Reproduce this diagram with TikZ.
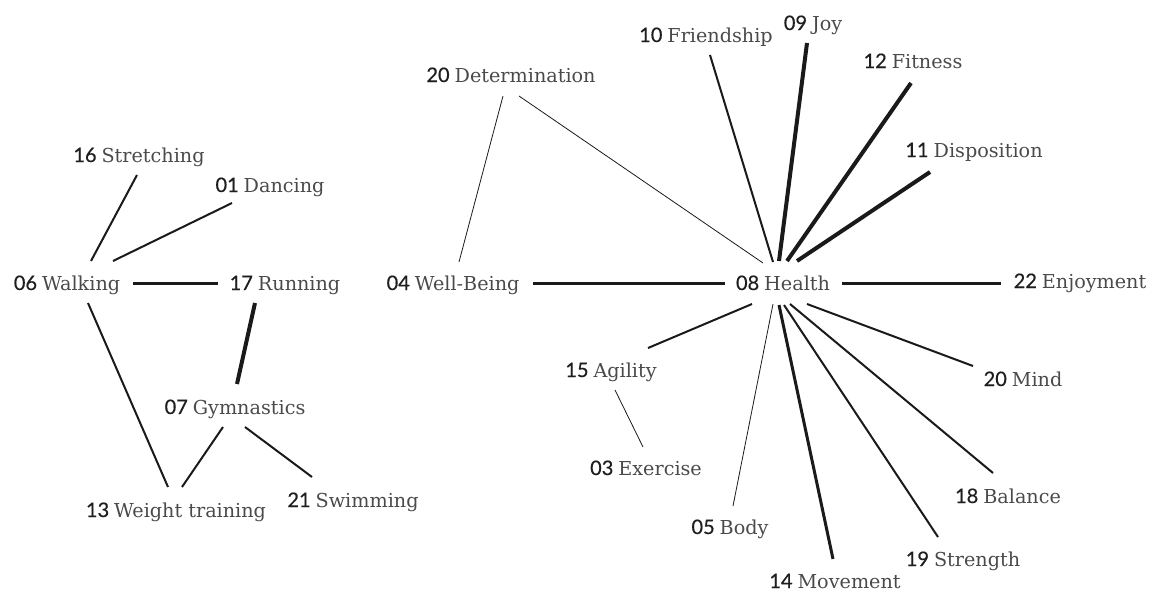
\documentclass[tikz,border=0pt]{standalone}
\usepackage{fontspec}
\setmainfont{DejaVu Serif}
\newfontfamily\numfont{Lato}[FakeBold=0.5]
\definecolor{numc}{HTML}{1E1E1E}
\definecolor{txtc}{HTML}{4A4A4A}
\definecolor{linec}{HTML}{1A1A1A}
\newcommand\lab[2]{{\numfont\fontsize{20}{22}\selectfont\color{numc}#1}\hspace{5pt}#2}
\tikzset{
  lbl/.style={anchor=base, inner sep=0pt, font=\fontsize{19.2}{22}\selectfont, text=txtc},
  thin/.style={draw=linec, line width=0.8pt},
  med/.style={draw=linec, line width=2pt},
  bold/.style={draw=linec, line width=3pt},
  heavy/.style={draw=linec, line width=4pt},
}
\begin{document}
\begin{tikzpicture}[x=1pt,y=1pt]
\useasboundingbox (0,0) rectangle (1153,-592);
% nodes (base anchor)
\node[lbl] (str) at (139,-162) {\lab{16}{Stretching}};
\node[lbl] (dan) at (270,-192) {\lab{01}{Dancing}};
\node[lbl] (wal) at (67,-290) {\lab{06}{Walking}};
\node[lbl] (run) at (285,-290) {\lab{17}{Running}};
\node[lbl] (gym) at (235,-414) {\lab{07}{Gymnastics}};
\node[lbl] (wt) at (176,-517) {\lab{13}{Weight training}};
\node[lbl] (swi) at (353,-507) {\lab{21}{Swimming}};
\node[lbl] (det) at (511,-82) {\lab{20}{Determination}};
\node[lbl] (fri) at (706,-42) {\lab{10}{Friendship}};
\node[lbl] (joy) at (813,-30) {\lab{09}{Joy}};
\node[lbl] (fit) at (913,-68) {\lab{12}{Fitness}};
\node[lbl] (dis) at (974,-157) {\lab{11}{Disposition}};
\node[lbl] (wb) at (453,-290) {\lab{04}{Well-Being}};
\node[lbl] (h) at (783,-290) {\lab{08}{Health}};
\node[lbl] (enj) at (1080,-288) {\lab{22}{Enjoyment}};
\node[lbl] (agi) at (611,-377) {\lab{15}{Agility}};
\node[lbl] (exe) at (646,-475) {\lab{03}{Exercise}};
\node[lbl] (bod) at (730,-534) {\lab{05}{Body}};
\node[lbl] (mov) at (835,-588) {\lab{14}{Movement}};
\node[lbl] (stg) at (963,-566) {\lab{19}{Strength}};
\node[lbl] (bal) at (1008,-503) {\lab{18}{Balance}};
\node[lbl] (mind) at (1023,-386) {\lab{20}{Mind}};
% left cluster
\draw[med] ([shift={(-2,-13)}]str.base) -- ([shift={(24,29)}]wal.base);
\draw[med] ([shift={(-38,-11)}]dan.base) -- ([shift={(46,29)}]wal.base);
\draw[bold] ([shift={(66,7)}]wal.base) -- ([shift={(-67,7)}]run.base);
\draw[heavy] ([shift={(-30,-13)}]run.base) -- ([shift={(2,30)}]gym.base);
\draw[med] ([shift={(21,-13)}]wal.base) -- ([shift={(-8,30)}]wt.base);
\draw[med] ([shift={(-12,-13)}]gym.base) -- ([shift={(6,30)}]wt.base);
\draw[med] ([shift={(10,-13)}]gym.base) -- ([shift={(-41,30)}]swi.base);
% right cluster
\draw[thin] ([shift={(-8,-14)}]det.base) -- ([shift={(6,28)}]wb.base);
\draw[thin] ([shift={(8,-14)}]det.base) -- ([shift={(-20,27)}]h.base);
\draw[bold] ([shift={(80,7)}]wb.base) -- ([shift={(-58,7)}]h.base);
\draw[med] ([shift={(4,-13)}]fri.base) -- ([shift={(-10,28)}]h.base);
\draw[heavy] ([shift={(-6,-13)}]joy.base) -- ([shift={(-4,29)}]h.base);
\draw[heavy] ([shift={(-2,-15)}]fit.base) -- ([shift={(4,29)}]h.base);
\draw[heavy] ([shift={(-44,-15)}]dis.base) -- ([shift={(14,29)}]h.base);
\draw[bold] ([shift={(59,7)}]h.base) -- ([shift={(-79,5)}]enj.base);
\draw[med] ([shift={(-31,-14)}]h.base) -- ([shift={(37,29)}]agi.base);
\draw[thin] ([shift={(4,-13)}]agi.base) -- ([shift={(-3,28)}]exe.base);
\draw[thin] ([shift={(-10,-14)}]h.base) -- ([shift={(3,28)}]bod.base);
\draw[bold] ([shift={(-4,-15)}]h.base) -- ([shift={(-2,29)}]mov.base);
\draw[med] ([shift={(1,-15)}]h.base) -- ([shift={(-25,29)}]stg.base);
\draw[med] ([shift={(7,-14)}]h.base) -- ([shift={(-15,30)}]bal.base);
\draw[med] ([shift={(24,-14)}]h.base) -- ([shift={(-50,20)}]mind.base);
\end{tikzpicture}
\end{document}
